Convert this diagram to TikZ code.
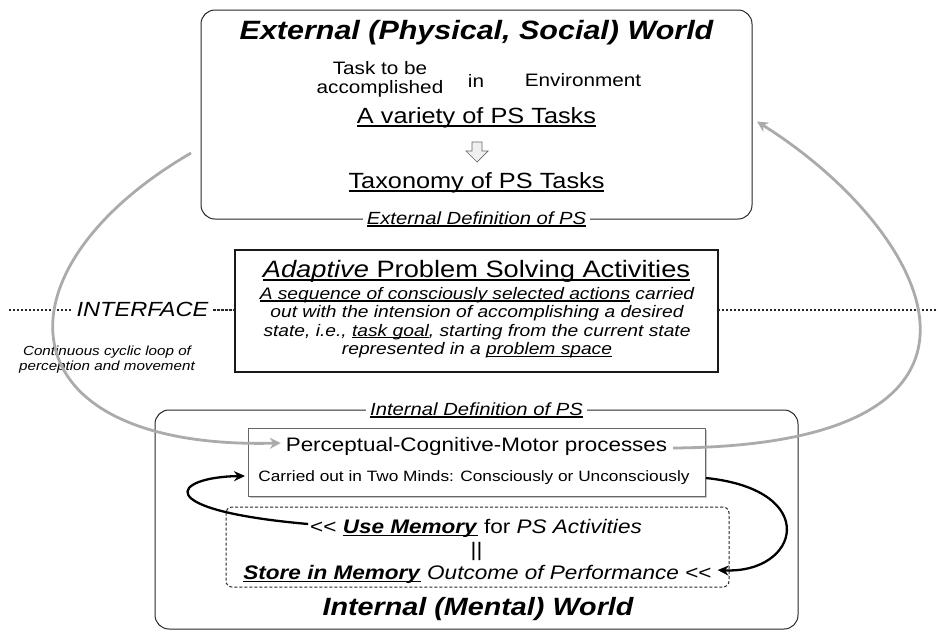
\documentclass[tikz,border=0pt]{standalone}
\usepackage{fontspec}
\setmainfont{Liberation Sans}[FakeStretch=1.15]
\usetikzlibrary{arrows.meta,calc,shadows}
\newcommand\myul[1]{\setbox0\hbox{#1}\rlap{\rule[-0.28ex]{\wd0}{0.14ex}}\box0\relax}
\newcommand\fs[2]{\fontsize{#1}{#2}\selectfont}
\begin{document}
\begin{tikzpicture}[x=1pt,y=-1pt,
  every node/.style={inner sep=0pt, outer sep=0pt},
  worldbox/.style={draw=black!85, line width=1pt, rounded corners=14pt},
  deflabel/.style={fill=white, inner xsep=4pt, inner ysep=2pt, font=\fs{17.6}{20}\itshape},
  graybig/.style={draw=black!33, line width=2.8pt, -{Stealth[length=11pt,width=11pt]}},
  blackarr/.style={draw=black, line width=2.3pt, -{Stealth[length=11pt,width=10pt]}},
  dotline/.style={draw=black!85, line width=2.5pt, dash pattern=on 2.2pt off 1.8pt},
  adaptbox/.style={draw=black!90, line width=2pt},
  percbox/.style={draw=black!60, line width=0.8pt, fill=white,
    drop shadow={fill=black!50, opacity=0.45, shadow xshift=2pt, shadow yshift=-2pt}},
  memobox/.style={draw=black!85, line width=1pt, dash pattern=on 3pt off 2pt, rounded corners=6pt}
]
\useasboundingbox (0,0) rectangle (936,633);

% ---------- External world ----------
\node[worldbox, minimum width=551pt, minimum height=209pt] (ext) at (476.5,114.5) {};
\node (title) at (476.5,33) {\fs{26.5}{30}\bfseries\itshape External (Physical, Social) World};
\node[align=center, font=\fs{18}{19}] (task) at (380,79) {Task to be\\accomplished};
\node[font=\fs{18}{20}] (in) at (476,81) {in};
\node[font=\fs{18}{20}] (env) at (583,80) {Environment};
\node[font=\fs{22}{25}] (variety) at (476.5,118) {\myul{A variety of PS Tasks}};
\coordinate (harrow) at (477,152);
\draw[fill=black!6, draw=black!60, line width=0.7pt]
  ($(harrow)+(-5,-10)$) -- ++(10,0) -- ++(0,9) -- ++(6,0) -- ++(-11,11) -- ++(-11,-11) -- ++(6,0) -- cycle;
\node[font=\fs{22}{25}] (taxo) at (476.5,183) {\myul{Taxonomy of PS Tasks}};
\node[deflabel] (extdef) at (476.5,219) {\myul{External Definition of PS}};

% ---------- Interface ----------
\node[adaptbox, fill=white, minimum width=483pt, minimum height=122pt] (adapt) at (476.5,311) {};
\node[font=\fs{23.7}{27}] (adtitle) at (476.5,271) {\myul{\textit{Adaptive} Problem Solving Activities}};
\node[align=center, font=\fs{16.7}{18.4}\itshape] (adbody) at (477,322.5) {%
  \myul{A sequence of consciously selected actions} carried\\
  out with the intension of accomplishing a desired\\
  state, i.e., \myul{task goal}, starting from the current state\\
  represented in a \myul{problem space}};

\coordinate (ifl) at (9,310);
\coordinate (ifr) at (936,310);
\node[fill=white, inner xsep=5pt, inner ysep=3pt, font=\fs{20.5}{24}\itshape] (iface) at (142.5,309) {INTERFACE};
\draw[dotline] (ifl) -- (iface.west |- ifl);
\draw[dotline] (iface.east |- ifl) -- (adapt.west |- ifl);
\draw[dotline] (adapt.east |- ifr) -- (ifr);
\node[align=center, font=\fs{13.2}{15}\itshape] (loop) at (107,360) {Continuous cyclic loop of\\perception and movement};

% ---------- Internal world ----------
\node[worldbox, minimum width=643pt, minimum height=219pt] (int) at (476.5,519.5) {};
\node[deflabel] (intdef) at (476.5,410) {\myul{Internal Definition of PS}};
\node[percbox, minimum width=457pt, minimum height=68pt] (perc) at (476.5,462) {};
\node[font=\fs{19.5}{23}] (perc1) at (476.5,446) {Perceptual-Cognitive-Motor processes};
\node[font=\fs{15}{18}] (carried) at (474,478) {Carried out in Two Minds: Consciously or Unconsciously};
\node[memobox, minimum width=503pt, minimum height=80pt] (memo) at (477.5,547) {};
\node[font=\fs{19.6}{22}] (use) at (476,528) {<{}< \myul{\textbf{\textit{Use Memory}}} for \textit{PS Activities}};
\node[font=\fs{19.6}{22}] (bars) at (476.5,551) {||};
\node[font=\fs{19.6}{22}] (store) at (477.5,574) {\myul{\textbf{\textit{Store in Memory}}} \textit{Outcome of Performance} <{}<};
\node[font=\fs{25}{28}\bfseries\itshape] (intitle) at (478,609) {Internal (Mental) World};

% ---------- connectors ----------
\coordinate (glstart) at (191,153);
\draw[graybig] (glstart) .. controls (-10,270) and (0,450) .. ($(perc1.west)+(-5,-3)$);
\draw[graybig] ($(perc1.east)+(6,2)$) .. controls (1045,445) and (930,230) .. ($(ext.east)+(5,7)$);
\draw[blackarr] ($(use.west)+(-2,-4)$) .. controls +(-160,-14) and +(-73,1) .. ($(perc.west |- carried)+(-3,-2)$);
\draw[blackarr] ($(perc.east |- carried)+(1,0)$) .. controls +(116,12) and +(82,4) .. ($(store.east)+(6,-4)$);
\end{tikzpicture}
\end{document}
